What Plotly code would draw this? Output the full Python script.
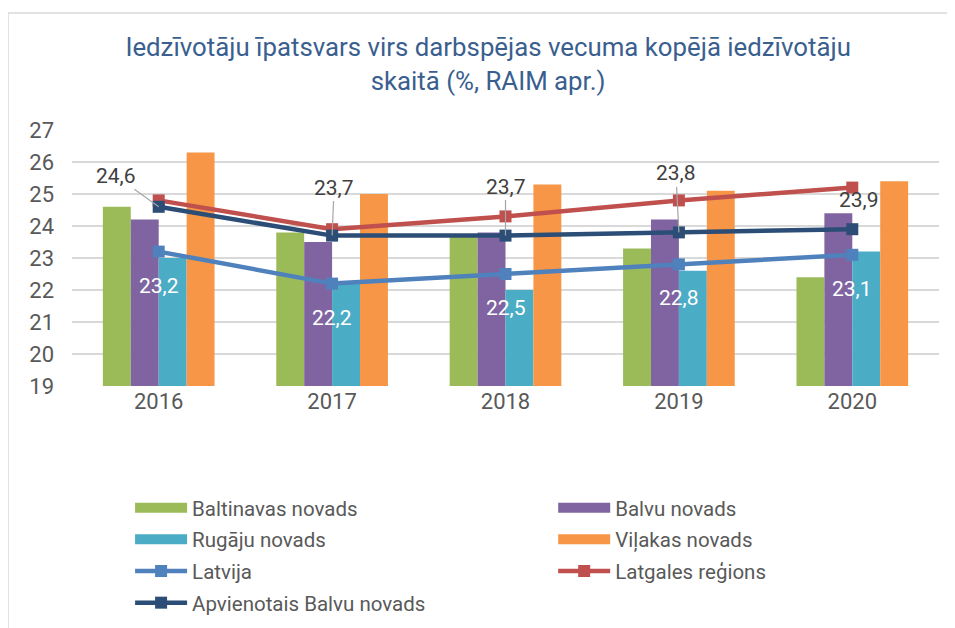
import plotly.graph_objects as go

years = ["2016", "2017", "2018", "2019", "2020"]
baltinavas = [24.6, 23.8, 23.7, 23.3, 22.4]
balvu = [24.2, 23.5, 23.8, 24.2, 24.4]
rugaju = [23.0, 22.2, 22.0, 22.6, 23.2]
vilakas = [26.3, 25.0, 25.3, 25.1, 25.4]
latvija = [23.2, 22.2, 22.5, 22.8, 23.1]
latgale = [24.8, 23.9, 24.3, 24.8, 25.2]
apvienotais = [24.6, 23.7, 23.7, 23.8, 23.9]
y_ticks = [19, 20, 21, 22, 23, 24, 25, 26, 27]

def fmt(v):
    return f"{v:.1f}".replace(".", ",")

FONT = "Roboto"
fig = go.Figure()
# (name, values, colour, legend column)
bar_series = [
    ("Baltinavas novads", baltinavas, "#9BBB59", "legend"),
    ("Balvu novads", balvu, "#8064A2", "legend2"),
    ("Rugāju novads", rugaju, "#4BACC6", "legend"),
    ("Viļakas novads", vilakas, "#F79646", "legend2"),
]
for name, vals, col, lg in bar_series:
    fig.add_trace(go.Bar(x=years, y=vals, name=name, showlegend=False,
                         marker=dict(color=col, line=dict(width=0))))
# legend entries for the bars, drawn as wide rectangles
for name, vals, col, lg in bar_series:
    fig.add_trace(go.Scatter(x=[None], y=[None], name=name, mode="lines", legend=lg,
                             legendgroup=name,
                             line=dict(color=col, width=12), hoverinfo="skip"))

line_series = [
    ("Latvija", latvija, "#4F81BD", "legend"),
    ("Latgales reģions", latgale, "#C0504D", "legend2"),
    ("Apvienotais Balvu novads", apvienotais, "#2C4D75", "legend"),
]
for name, vals, col, lg in line_series:
    fig.add_trace(go.Scatter(x=years, y=vals, name=name, mode="lines+markers", legend=lg,
                             legendgroup=name,
                             line=dict(color=col, width=4.5),
                             marker=dict(symbol="square", size=12, color=col)))

annotations = []
# Latvija labels (white, below the line); x given as category index
for i, v in enumerate(latvija):
    annotations.append(dict(x=i, y=v, text=fmt(v), showarrow=False, yshift=-34,
                            font=dict(family=FONT, size=21, color="white")))
# Apvienotais labels with leader lines
offsets = [(-43, -31), (2, -48), (0, -49), (-3, -59), (7, -29)]
for i, (v, (ax, ay)) in enumerate(zip(apvienotais, offsets)):
    annotations.append(dict(x=i, y=v, text=fmt(v), showarrow=True, arrowhead=0,
                            arrowwidth=1.2, arrowcolor="#A6A6A6", ax=ax, ay=ay,
                            standoff=0,
                            font=dict(family=FONT, size=21, color="#404040")))
annotations[-1]["arrowcolor"] = "rgba(0,0,0,0)"

legend_common = dict(orientation="v", traceorder="grouped", tracegroupgap=2, itemwidth=52,
                     yanchor="top", xanchor="left", bgcolor="rgba(0,0,0,0)",
                     font=dict(family=FONT, size=20.5, color="#595959"))

border = dict(color="#D9D9D9", width=1.5)

fig.update_layout(
    width=947, height=620,
    margin=dict(l=64, r=16, t=122, b=242, autoexpand=False),
    paper_bgcolor="white", plot_bgcolor="white",
    barmode="group", bargap=0.356, bargroupgap=0,
    title=dict(text="Iedzīvotāju īpatsvars virs darbspējas vecuma kopējā iedzīvotāju<br>skaitā (%, RAIM apr.)",
               x=0.507, xanchor="center", y=0.922, yanchor="top",
               font=dict(family=FONT, size=25.8, color="#3A5F8F")),
    font=dict(family=FONT, color="#595959"),
    xaxis=dict(type="category", range=[-0.5, 4.5], showgrid=False, showline=False, ticks="",
               tickfont=dict(size=22, color="#595959")),
    yaxis=dict(range=[19, 27], tickvals=y_ticks, showgrid=True, gridcolor="#D9D9D9", gridwidth=1.6,
               zeroline=False, showline=False, tickfont=dict(size=22, color="#595959"),
               ticklabelstandoff=17),
    legend=dict(x=0.067, y=-0.398, **legend_common),
    legend2=dict(x=0.555, y=-0.398, **legend_common),
    annotations=annotations,
    shapes=[
        dict(type="line", xref="paper", yref="paper", x0=-0.0738, x1=-0.0738, y0=-3, y1=1.457,
             line=border, layer="below"),
        dict(type="line", xref="paper", yref="paper", x0=-0.0738, x1=1.3, y0=1.457, y1=1.457,
             line=border, layer="below"),
    ],
)

fig.write_html("out.html")
